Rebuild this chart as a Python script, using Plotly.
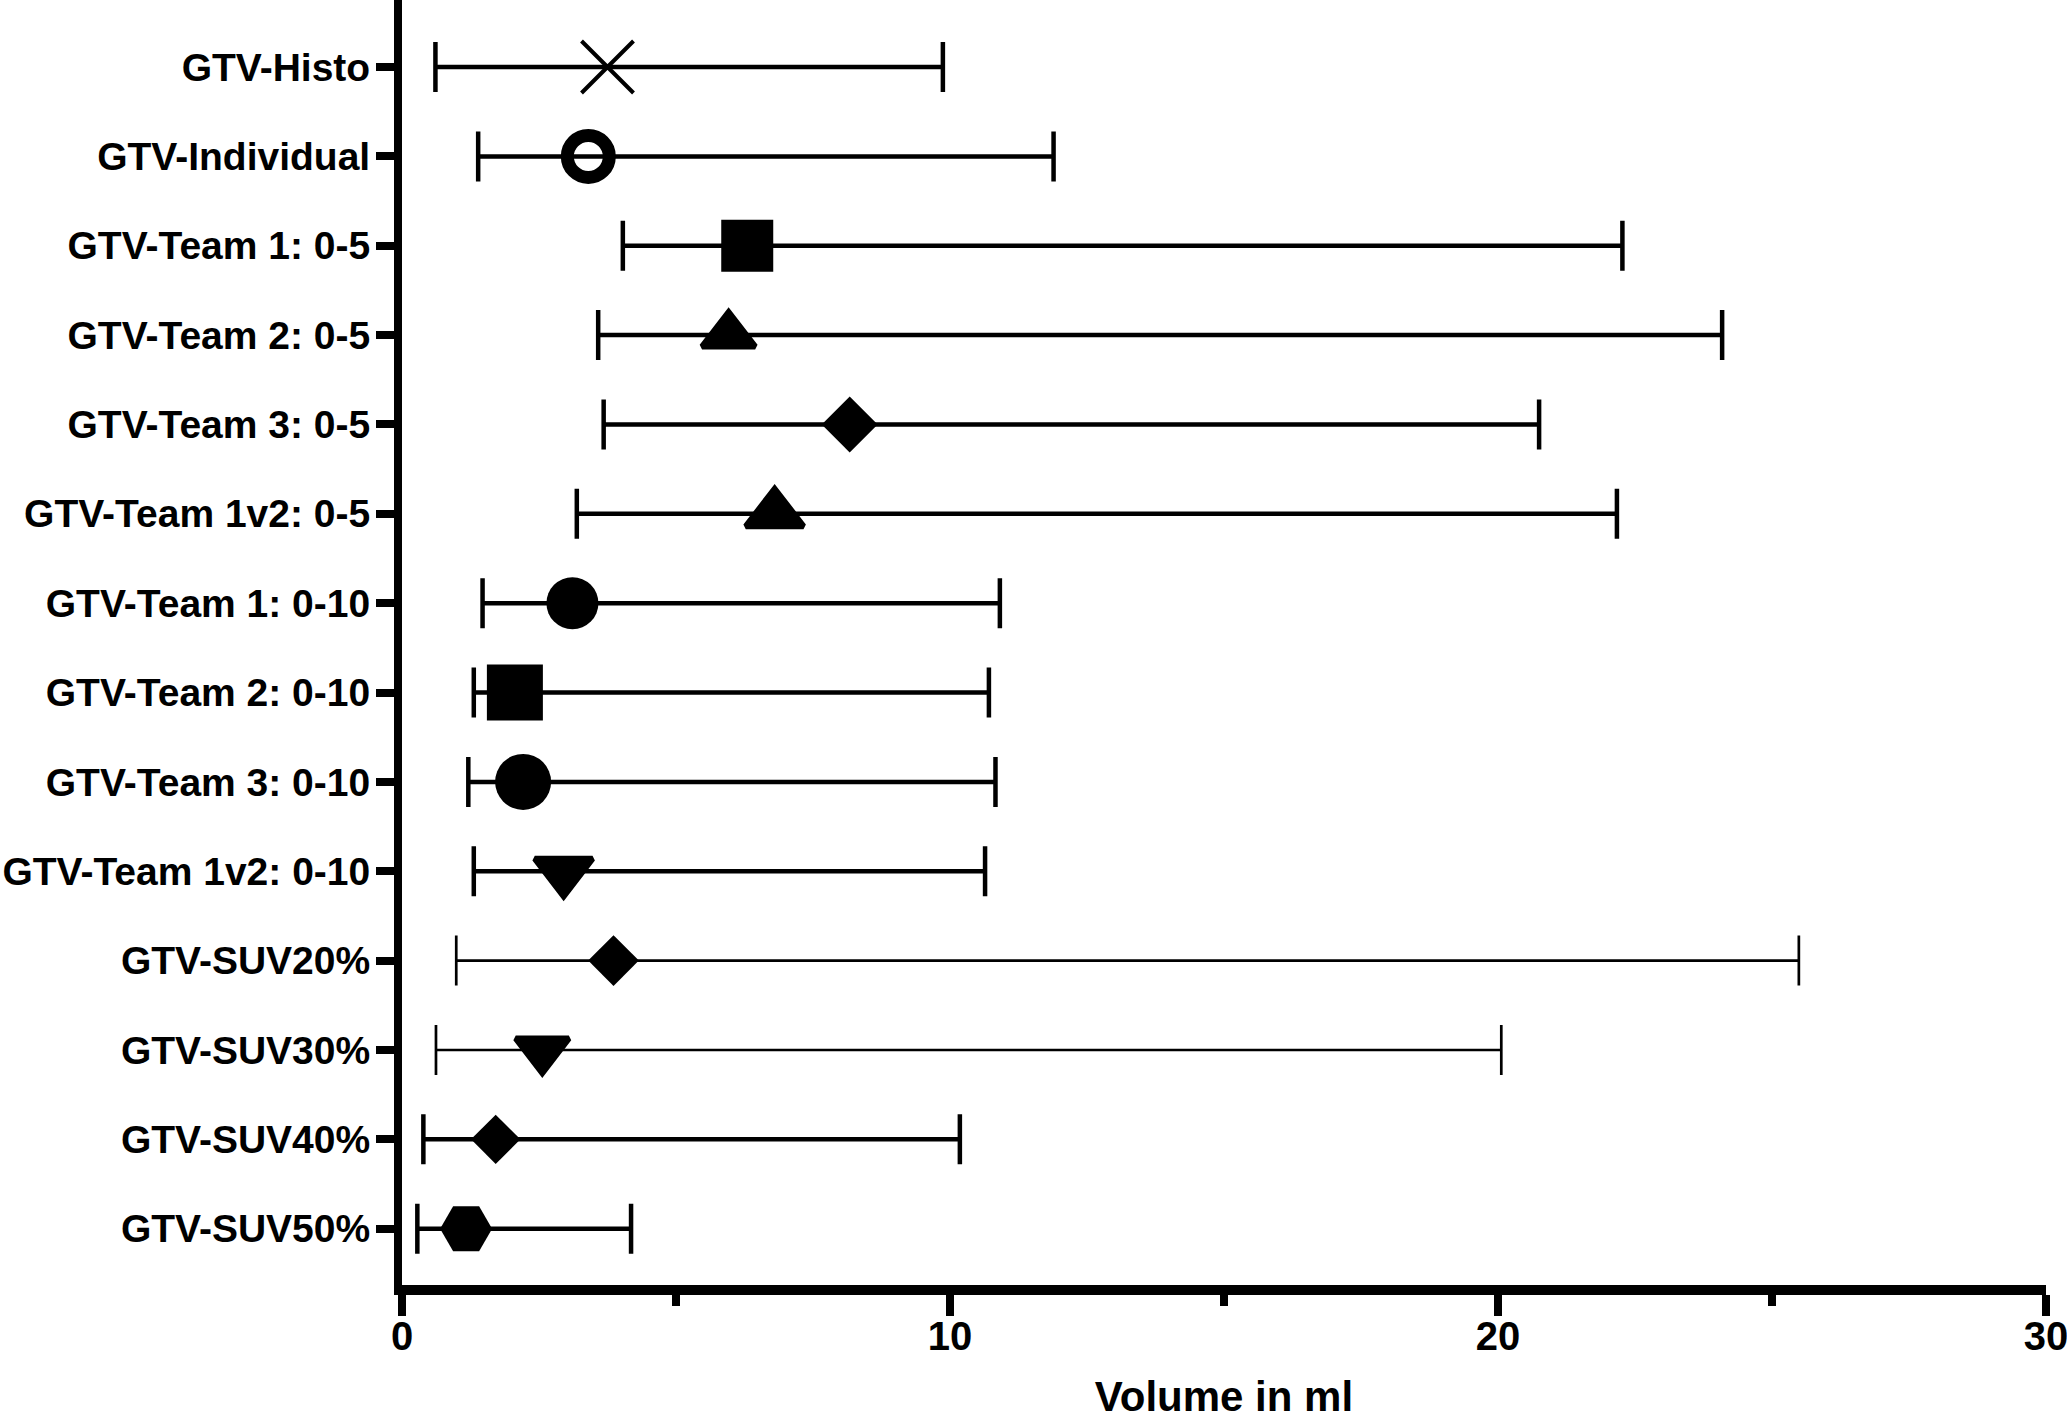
import plotly.graph_objects as go

# GTV volumes (ml): median with range
labels = [
    'GTV-Histo', 'GTV-Individual',
    'GTV-Team 1: 0-5', 'GTV-Team 2: 0-5', 'GTV-Team 3: 0-5', 'GTV-Team 1v2: 0-5',
    'GTV-Team 1: 0-10', 'GTV-Team 2: 0-10', 'GTV-Team 3: 0-10', 'GTV-Team 1v2: 0-10',
    'GTV-SUV20%', 'GTV-SUV30%', 'GTV-SUV40%', 'GTV-SUV50%',
]
median_ml = [3.75, 3.40, 6.30, 5.96, 8.17, 6.80, 3.11, 2.06, 2.21, 2.95, 3.86, 2.56, 1.71, 1.17]
min_ml = [0.61, 1.39, 4.03, 3.58, 3.68, 3.19, 1.47, 1.31, 1.21, 1.31, 0.99, 0.62, 0.39, 0.28]
max_ml = [9.87, 11.89, 22.27, 24.09, 20.75, 22.17, 10.91, 10.71, 10.83, 10.64, 25.49, 20.06, 10.18, 4.18]
x_ticks = [0, 10, 20, 30]

# marker style per row
symbols = ['x-thin', 'circle-open', 'square', 'triangle-up', 'diamond', 'triangle-up',
           'circle', 'square', 'circle', 'triangle-down', 'diamond', 'triangle-down',
           'diamond', 'hexagon2']
sizes = [52, 42, 52, 46, 43, 50, 52, 56, 56, 50, 39, 46, 38, 52]
thin_rows = {'GTV-SUV20%', 'GTV-SUV30%'}

fig = go.Figure()

for i, lab in enumerate(labels):
    sym = symbols[i]
    if sym == 'x-thin':
        mline = dict(color='black', width=4)
    elif sym == 'circle-open':
        mline = dict(color='black', width=13)
    elif sym.startswith('triangle'):
        mline = dict(color='black', width=6)  # a bit taller, like the original
    else:
        mline = dict(width=0)
    fig.add_trace(go.Scatter(
        x=[median_ml[i]],
        y=[lab],
        mode='markers',
        marker=dict(symbol=sym, size=sizes[i], color='black', line=mline),
        error_x=dict(
            type='data',
            symmetric=False,
            array=[max_ml[i] - median_ml[i]],
            arrayminus=[median_ml[i] - min_ml[i]],
            color='black',
            thickness=2.7 if lab in thin_rows else 4.5,
            width=25,
        ),
        showlegend=False,
    ))

FONT = 'Liberation Sans, Arial, sans-serif'

fig.update_layout(
    width=2067,
    height=1420,
    margin=dict(l=402, r=21, t=0, b=135),
    plot_bgcolor='white',
    paper_bgcolor='white',
    font=dict(family=FONT, color='black'),
    xaxis=dict(
        range=[0, 30],
        tickvals=x_ticks,
        ticks='outside',
        ticklen=21,
        tickwidth=8,
        tickcolor='black',
        tickfont=dict(family=FONT, size=40, color='black', weight='bold'),
        ticklabelstandoff=-14,
        ticklabeloverflow='allow',
        minor=dict(dtick=5, ticks='outside', ticklen=11, tickwidth=8, tickcolor='black'),
        showline=True,
        linewidth=10,
        linecolor='black',
        showgrid=False,
        zeroline=False,
        automargin=False,
        title=dict(text='Volume in ml', standoff=48,
                   font=dict(family=FONT, size=42, color='black', weight='bold')),
    ),
    yaxis=dict(
        type='category',
        categoryorder='array',
        categoryarray=labels,
        range=[13.63, -0.75],
        ticks='outside',
        ticklen=18,
        tickwidth=8,
        tickcolor='black',
        tickfont=dict(family=FONT, size=39, color='black', weight='bold'),
        ticklabelstandoff=-2,
        showline=True,
        linewidth=8,
        linecolor='black',
        showgrid=False,
        zeroline=False,
        automargin=False,
    ),
)

# drop the browser's default 8px body margin so the figure sits at the page corner
fig.write_html('out.html', config={'displayModeBar': False},
               post_script="document.body.style.margin='0';")
